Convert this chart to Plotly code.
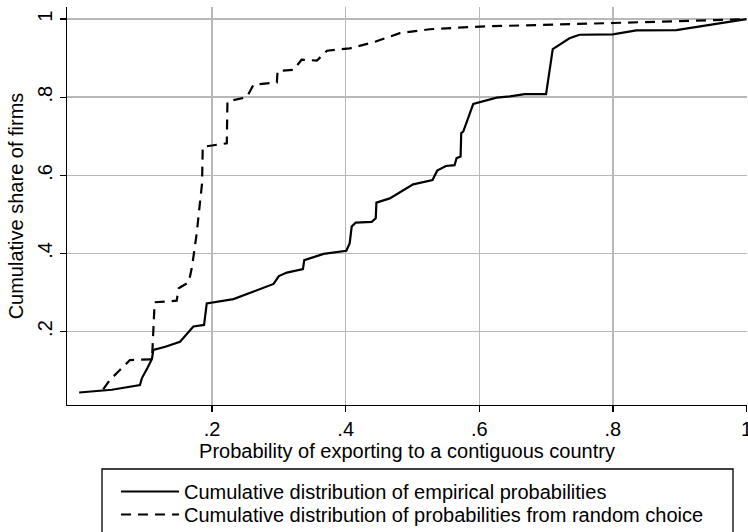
import plotly.graph_objects as go

# Empirical cumulative distribution (solid)
emp_x = [0.001, 0.050, 0.092, 0.095, 0.103, 0.110, 0.112, 0.130, 0.152, 0.172, 0.188, 0.192,
         0.232, 0.269, 0.292, 0.300, 0.312, 0.336, 0.338, 0.367, 0.401, 0.406, 0.409, 0.415,
         0.439, 0.445, 0.446, 0.466, 0.501, 0.530, 0.537, 0.550, 0.563, 0.566, 0.572, 0.573,
         0.576, 0.591, 0.626, 0.646, 0.668, 0.700, 0.710, 0.735, 0.750, 0.800, 0.835, 0.895, 1.000]
emp_y = [0.044, 0.051, 0.063, 0.081, 0.106, 0.130, 0.153, 0.161, 0.174, 0.213, 0.217, 0.272,
         0.283, 0.307, 0.322, 0.342, 0.351, 0.360, 0.383, 0.399, 0.407, 0.426, 0.469, 0.479,
         0.481, 0.490, 0.530, 0.541, 0.577, 0.588, 0.612, 0.624, 0.626, 0.644, 0.648, 0.708,
         0.712, 0.783, 0.799, 0.802, 0.808, 0.808, 0.923, 0.951, 0.960, 0.961, 0.971, 0.972, 1.000]

# Random-choice cumulative distribution (dashed)
rnd_x = [0.037, 0.047, 0.077, 0.110, 0.112, 0.114, 0.147, 0.150, 0.165, 0.170, 0.177, 0.185,
         0.186, 0.222, 0.223, 0.237, 0.252, 0.262, 0.297, 0.298, 0.322, 0.334, 0.357, 0.372,
         0.406, 0.444, 0.481, 0.526, 0.601, 0.800, 1.000]
rnd_y = [0.052, 0.076, 0.127, 0.129, 0.200, 0.275, 0.279, 0.311, 0.326, 0.366, 0.452, 0.580,
         0.673, 0.682, 0.789, 0.795, 0.800, 0.832, 0.838, 0.867, 0.870, 0.896, 0.894, 0.919,
         0.925, 0.942, 0.964, 0.974, 0.981, 0.990, 1.000]

tick_vals = [0.2, 0.4, 0.6, 0.8, 1.0]
tick_text = [".2", ".4", ".6", ".8", "1"]

names = ["Cumulative distribution of empirical probabilities",
         "Cumulative distribution of probabilities from random choice"]

FONT = "Liberation Sans, Arial, sans-serif"
FS = 20

W, H = 748, 532
L, R, T, B = 67, 1, 7, 127
ph = H - T - B


def py(p):
    return (H - B - p) / ph


def px(p):
    return (p - L) / (W - L - R)


fig = go.Figure()
fig.add_trace(go.Scatter(x=emp_x, y=emp_y, mode="lines", name=names[0],
                         line=dict(color="black", width=2.2), legend="legend"))
fig.add_trace(go.Scatter(x=rnd_x, y=rnd_y, mode="lines", name=names[1],
                         line=dict(color="black", width=2.2, dash="10px,7px"),
                         legend="legend2"))

fig.add_shape(type="rect", xref="paper", yref="paper",
              x0=px(102), x1=px(733), y0=py(469), y1=py(560),
              line=dict(color="black", width=1.3), fillcolor="rgba(0,0,0,0)")

leg_common = dict(xanchor="left", yanchor="top", bgcolor="rgba(0,0,0,0)",
                  borderwidth=0, itemwidth=58, font=dict(size=FS, family=FONT))

fig.update_layout(
    width=W, height=H,
    margin=dict(l=L, r=R, t=T, b=B, autoexpand=False),
    paper_bgcolor="white", plot_bgcolor="white",
    font=dict(family=FONT, size=FS, color="black"),
    showlegend=True,
    hovermode=False,
    legend=dict(x=px(116), y=py(472), **leg_common),
    legend2=dict(x=px(116), y=py(495), **leg_common),
    xaxis=dict(range=[-0.0172, 1.0008], tickvals=tick_vals, ticktext=tick_text,
               showgrid=True, gridcolor="#b8b8b8", gridwidth=1.5,
               showline=True, linecolor="black", linewidth=1.3,
               ticks="outside", ticklen=6, tickcolor="black", tickwidth=1.3,
               ticklabeloverflow="allow",
               zeroline=False, automargin=False,
               title=dict(text="Probability of exporting to a contiguous country",
                          font=dict(size=FS), standoff=2)),
    yaxis=dict(range=[0.012, 1.031], tickvals=tick_vals, ticktext=tick_text,
               tickangle=-90, ticklabeloverflow="allow",
               showgrid=True, gridcolor="#b8b8b8", gridwidth=1.5,
               showline=True, linecolor="black", linewidth=1.3,
               ticks="outside", ticklen=6, tickcolor="black", tickwidth=1.3,
               zeroline=False, automargin=False,
               title=dict(text="Cumulative share of firms", font=dict(size=FS), standoff=4)),
)

fig.write_html("out.html",
               config={"displayModeBar": False, "staticPlot": True},
               post_script="document.body.style.margin='0';"
                           "document.body.style.overflow='hidden';")
